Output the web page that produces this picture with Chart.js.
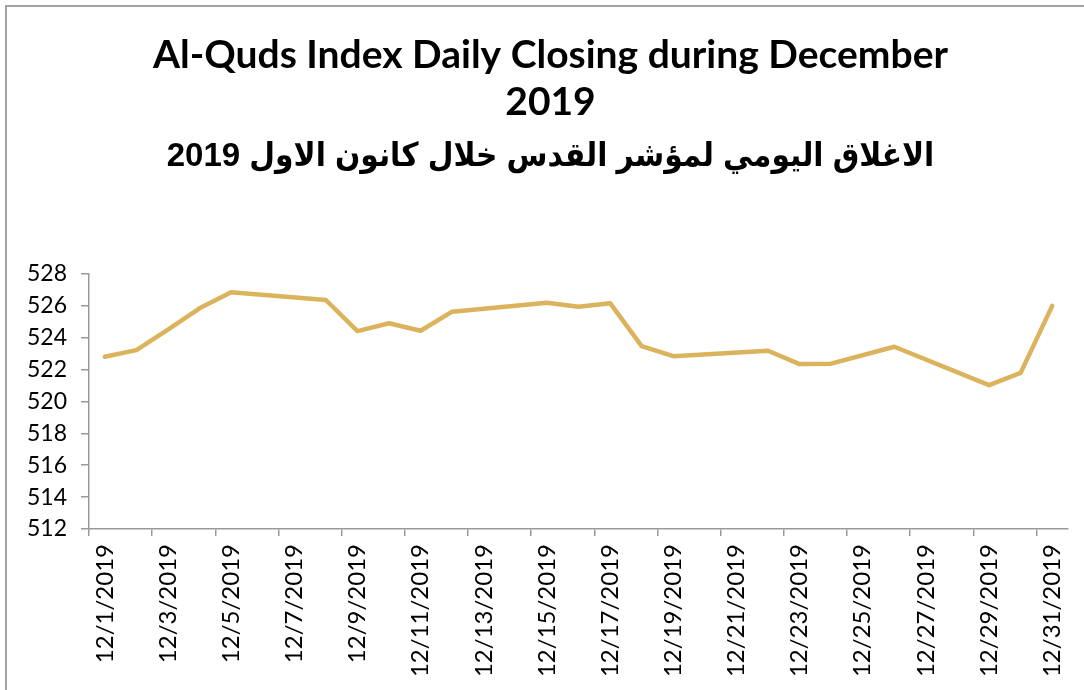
<!DOCTYPE html>
<html>
<head>
<meta charset="utf-8">
<script src="https://cdn.jsdelivr.net/npm/chart.js@4"></script>
<style>
  html, body { margin: 0; padding: 0; background: #fff; }
  #wrap { position: relative; width: 1084px; height: 690px; overflow: hidden; }
  #frame { position: absolute; left: 5px; top: 5px; width: 1200px; height: 800px;
           border-left: 2px solid #a3a3a3; border-top: 2px solid #a3a3a3; }
  canvas { position: absolute; left: 0; top: 0; }
</style>
</head>
<body>
<div id="wrap">
  <div id="frame"></div>
  <canvas id="qudsChart" width="1084" height="690"></canvas>
</div>
<script>
    // trading days of December 2019 and the index close on each
    const days = [1, 2, 3, 4, 5, 8, 9, 10, 11, 12, 15, 16, 17, 18, 19, 22, 23, 24, 26, 29, 30, 31];
    const closing = [522.80, 523.22, 524.50, 525.84, 526.85, 526.36, 524.41, 524.90, 524.43, 525.63,
                     526.19, 525.94, 526.16, 523.47, 522.84, 523.18, 522.34, 522.37, 523.43, 521.02,
                     521.79, 525.99];

    // date axis labels, every second day
    const tickDays = [1, 3, 5, 7, 9, 11, 13, 15, 17, 19, 21, 23, 25, 27, 29, 31];
    const tickLabels = ['12/1/2019', '12/3/2019', '12/5/2019', '12/7/2019', '12/9/2019', '12/11/2019',
                        '12/13/2019', '12/15/2019', '12/17/2019', '12/19/2019', '12/21/2019', '12/23/2019',
                        '12/25/2019', '12/27/2019', '12/29/2019', '12/31/2019'];

    const titleLines = ['Al-Quds Index Daily Closing during December', '2019'];
    const titleArabic = '\u2067الاغلاق اليومي لمؤشر القدس خلال كانون الاول 2019\u2069';

    const axisGray = '#9a9a9a';

    // the titles are centred on the whole frame, a little right of the canvas centre
    const shiftTitles = {
        id: 'shiftTitles',
        afterLayout(chart) {
            chart.boxes.forEach(b => {
                if (b.position === 'top') b.left += 28;
            });
        },
    };

    const ctx = document.getElementById('qudsChart').getContext('2d');
    new Chart(ctx, {
        type: 'line',
        data: {
            datasets: [
                {
                    label: 'Al-Quds Index',
                    data: days.map((d, i) => ({ x: d, y: closing[i] })),
                    borderColor: '#dab35c',
                    borderWidth: 4.5,
                    borderCapStyle: 'round',
                    borderJoinStyle: 'round',
                    pointRadius: 0,
                    tension: 0,
                    fill: false,
                },
            ],
        },
        options: {
            responsive: false,
            animation: false,
            layout: {
                padding: { left: 5, right: 16, top: 0, bottom: 0 },
            },
            plugins: {
                legend: { display: false },
                tooltip: { enabled: false },
                title: {
                    display: true,
                    text: titleLines,
                    color: '#000',
                    font: { family: 'Lato', size: 39, weight: 'bold', lineHeight: 1.2 },
                    padding: { top: 32, bottom: 11 },
                },
                subtitle: {
                    display: true,
                    text: titleArabic,
                    color: '#000',
                    font: { family: '"Liberation Sans", "DejaVu Sans Condensed", "DejaVu Sans"', size: 33, weight: 'bold', lineHeight: 1.25 },
                    padding: { top: 0, bottom: 96 },
                },
            },
            scales: {
                x: {
                    type: 'linear',
                    min: 0.5,
                    max: 31.5,
                    afterBuildTicks: (scale) => {
                        // tick marks sit on the day boundaries, labels in the middle of the day
                        scale.ticks = tickDays.map(d => ({ value: d - 0.5 }));
                    },
                    afterFit: (scale) => { scale.height = 161; },
                    ticks: {
                        autoSkip: false,
                        minRotation: 90,
                        maxRotation: 90,
                        labelOffset: 15.8,
                        padding: 8,
                        color: '#000',
                        font: { family: 'Lato', size: 24 },
                        callback: (value, index) => tickLabels[index],
                    },
                    grid: {
                        drawOnChartArea: false,
                        drawTicks: true,
                        tickLength: 7,
                        color: axisGray,
                        lineWidth: 1.5,
                    },
                    border: { display: true, color: axisGray, width: 1.5 },
                },
                y: {
                    min: 512,
                    max: 528,
                    afterFit: (scale) => { scale.width = 84; },
                    ticks: {
                        stepSize: 2,
                        padding: 14,
                        color: '#000',
                        font: { family: 'Lato', size: 23 },
                    },
                    grid: {
                        drawOnChartArea: false,
                        drawTicks: true,
                        tickLength: 8,
                        color: axisGray,
                        lineWidth: 1.5,
                    },
                    border: { display: true, color: axisGray, width: 1.5 },
                },
            },
        },
        plugins: [shiftTitles],
    });
</script>
</body>
</html>
